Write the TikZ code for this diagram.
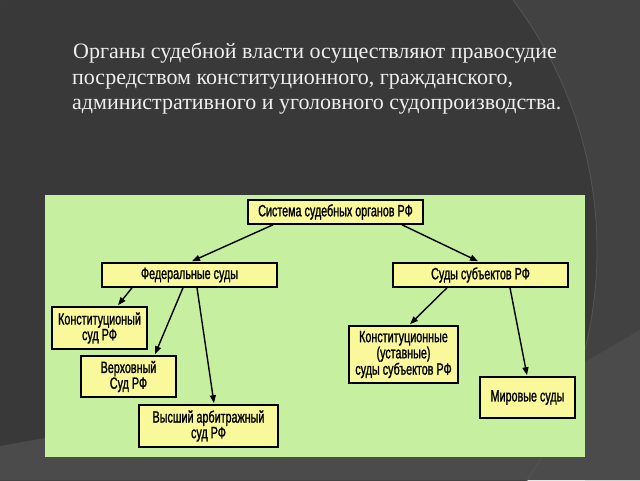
\documentclass[tikz,border=0pt]{standalone}
\usepackage{fontspec}
\setmainfont{Liberation Serif}
\newfontfamily\boxfont[FakeStretch=0.66,FakeBold=1.2]{Liberation Sans}
\usetikzlibrary{arrows.meta,calc}
\definecolor{bgdark}{HTML}{393939}
\definecolor{bgmid}{HTML}{424242}
\definecolor{bglight}{HTML}{4B4B4B}
\definecolor{arcline}{HTML}{555555}
\definecolor{panel}{HTML}{C6EFA0}
\definecolor{boxfill}{HTML}{F9F99C}
\definecolor{titlecol}{HTML}{EEEEEE}
\tikzset{
  courtbox/.style={draw=black,line width=1.6pt,fill=boxfill,inner sep=1pt,align=center,
    font=\boxfont\fontsize{16.3}{13.5}\selectfont},
  link/.style={line width=1.4pt,-{Triangle[length=8pt,width=6pt]}},
  titleline/.style={anchor=base west,text=titlecol,inner sep=0pt,font=\fontsize{22}{24}\selectfont}
}
\begin{document}
\begin{tikzpicture}[x=1pt,y=-1pt]
\useasboundingbox (0,0) rectangle (640,480);
% background
\fill[bgdark] (0,0) rectangle (640,480);
\fill[bgmid,even odd rule] (0,0) rectangle (640,480) (183,250) circle[radius=414pt];
\fill[bglight] (585,362) -- (640,330) -- (640,480) -- (585,480) -- cycle;
\fill[bglight] (0,446) -- (45,438) -- (45,480) -- (0,480) -- cycle;
\fill[bglight] (45,457) rectangle (585,480);
\draw[arcline,line width=0.8pt] (183,250) circle[radius=414pt];
% title
\node[titleline] (t1) at (73,58) {Органы судебной власти осуществляют правосудие};
\node[titleline] (t2) at (72,84) {посредством конституционного, гражданского,};
\node[titleline] (t3) at (72,109) {административного и уголовного судопроизводства.};
% panel
\fill[panel] (45,195) rectangle (585,457);
% boxes
\node[courtbox,minimum width=175pt,minimum height=24pt] (top) at (335.5,212) {Система судебных органов РФ};
\node[courtbox,minimum width=175pt,minimum height=24pt] (fed) at (189.5,275) {Федеральные суды};
\node[courtbox,minimum width=175pt,minimum height=24pt] (subj) at (480.5,275) {Суды субъектов РФ};
\node[courtbox,minimum width=95pt,minimum height=42pt] (konst) at (99.5,328) {Конституционый\\суд РФ};
\node[courtbox,minimum width=95pt,minimum height=41pt] (verh) at (128.5,376.5) {Верховный\\Суд РФ};
\node[courtbox,minimum width=139pt,minimum height=42pt] (vas) at (208.5,426) {Высший арбитражный\\суд РФ};
\node[courtbox,minimum width=109pt,minimum height=57pt] (ksubj) at (403.5,354.5) {Конституционные\\(уставные)\\суды субъектов РФ};
\node[courtbox,minimum width=95pt,minimum height=41pt] (mir) at (527.5,397.5) {Мировые суды};
% arrows
\draw[link] ($(top.south)+(-62.5,0)$) -- ($(fed.north)+(2.5,-1)$);
\draw[link] ($(top.south)+(66.5,0)$) -- ($(subj.north)+(-2.5,-1)$);
\draw[link] ($(fed.south)+(-57.5,0)$) -- ($(konst.north)+(18.5,-1)$);
\draw[link] ($(fed.south)+(-6.5,0)$) -- ($(verh.north)+(26.5,-1)$);
\draw[link] ($(fed.south)+(7.5,0)$) -- ($(vas.north)+(5.5,-1)$);
\draw[link] ($(subj.south)+(-33.5,0)$) -- ($(ksubj.north)+(6.5,-1)$);
\draw[link] ($(subj.south)+(29.5,0)$) -- ($(mir.north)+(-0.5,-1)$);
\end{tikzpicture}
\end{document}
